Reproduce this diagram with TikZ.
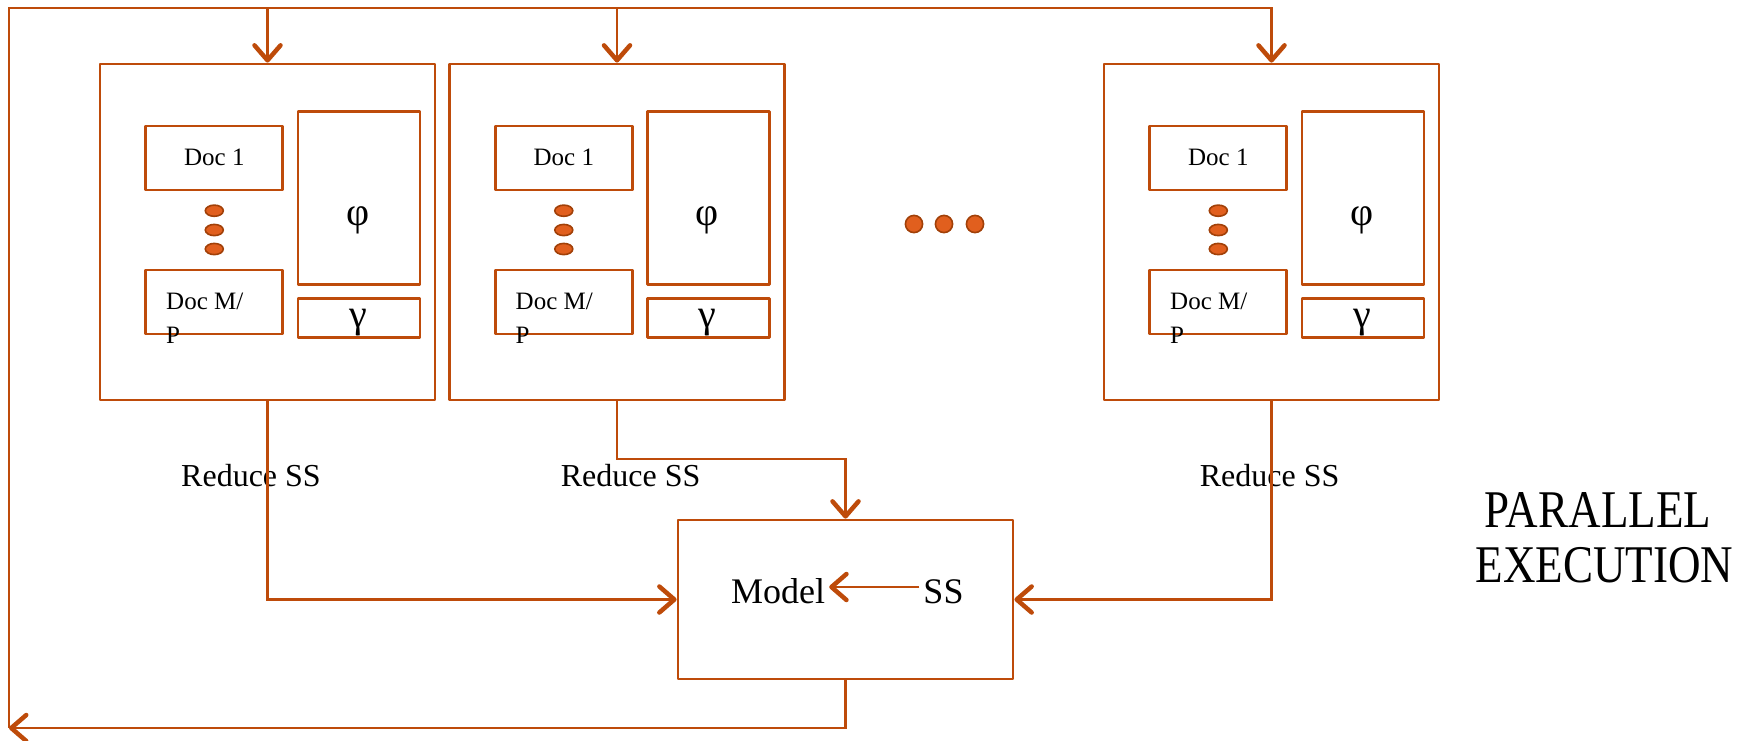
\documentclass[tikz,border=0pt]{standalone}
\usepackage{fontspec}
\setmainfont{Liberation Serif}
\newfontfamily\capfont{Liberation Serif}[FakeStretch=0.85]
\usetikzlibrary{arrows.meta}
\definecolor{rust}{RGB}{190,75,10}
\definecolor{dotfill}{RGB}{225,95,30}
\begin{document}
\begin{tikzpicture}[x=1pt,y=-1pt,
  box/.style={draw=rust, line width=2.8pt, line join=round, inner sep=0pt, minimum width=#1},
  box/.default=10pt,
  conn/.style={draw=rust, line width=2.1pt},
  tip/.style={-{Straight Barb[length=15pt,width=26pt,line width=4.5pt,round]}},
  doctext/.style={font=\fontsize{25}{30}\selectfont, inner sep=0pt},
  greek/.style={font=\fontsize{40}{46}\selectfont, inner sep=0pt},
  lbl/.style={font=\fontsize{32}{38}\selectfont, inner sep=0pt},
  dot/.style={draw=rust!85!black, fill=dotfill, line width=1.6pt},
]
\useasboundingbox (0,0) rectangle (1744,740);

\foreach \i/\dx in {1/0, 2/349.5, 3/1004} {
  \begin{scope}[xshift=\dx pt]
    \node[box=335pt, minimum height=336pt] (w\i) at (267.5,232) {};
    \node[box=137pt, minimum height=64pt] (da\i) at (214.3,158) {};
    \node[doctext] (dat\i) at (214.3,157) {Doc 1};
    \node[box=137pt, minimum height=64pt] (db\i) at (214.3,302) {};
    \node[doctext, anchor=base west] (dbt\i) at (166,309) {Doc M/};
    \node[doctext, anchor=base west] (dbp\i) at (166,343) {P};
    \node[box=122pt, minimum height=173pt] (phib\i) at (359,198.3) {};
    \node[greek] (phit\i) at (358,220) {φ};
    \node[box=122pt, minimum height=39pt] (gamb\i) at (359,318.3) {};
    \node[greek] (gamt\i) at (358,323) {γ};
    \foreach \yy in {210.7,230,249} {
      \draw[dot] (214.3,\yy) ellipse [x radius=9pt, y radius=5.6pt];
    }
  \end{scope}
}

% ellipsis between workers
\foreach \xx in {914,944,975} {
  \draw[dot] (\xx,224) circle [radius=8.6pt];
}

% model box
\node[box=335pt, minimum height=159pt] (model) at (845.5,599.5) {};
\node[font=\fontsize{36}{42}\selectfont, inner sep=4pt, anchor=base] (mdl) at (778,603) {Model};
\node[font=\fontsize{36}{42}\selectfont, inner sep=4pt, anchor=base] (ss) at (943.5,603) {SS};
\draw[conn, line width=1.3pt, tip] (ss.west |- 0,587) -- (mdl.east |- 0,587);

% reduce labels
\node[lbl, anchor=base] (r1) at (251,486) {Reduce SS};
\node[lbl, anchor=base] (r2) at (630.6,486) {Reduce SS};
\node[lbl, anchor=base] (r3) at (1269.6,486) {Reduce SS};

% parallel execution
\node[font=\capfont\fontsize{53}{60}\selectfont, inner sep=0pt, anchor=base] (pe1) at (1598,527) {PARALLEL};
\node[font=\capfont\fontsize{53}{60}\selectfont, inner sep=0pt, anchor=base] (pe2) at (1604.5,582) {EXECUTION};

% connectors
\coordinate (tl) at (9,8);
\coordinate (bl) at (9,728);
\coordinate (j2) at (616.5,459);
\draw[conn, tip] (model.south) |- (bl);
\draw[conn, tip] (bl) -- (tl) -| (w3.north);
\draw[conn, tip] (w1.north |- tl) -- (w1.north);
\draw[conn, tip] (w2.north |- tl) -- (w2.north);
\draw[conn, tip] (w1.south) |- (model.west);
\draw[conn, tip] (w3.south) |- (model.east);
\draw[conn, tip] (w2.south) -- (w2.south |- j2) -| (model.north);
\end{tikzpicture}
\end{document}
